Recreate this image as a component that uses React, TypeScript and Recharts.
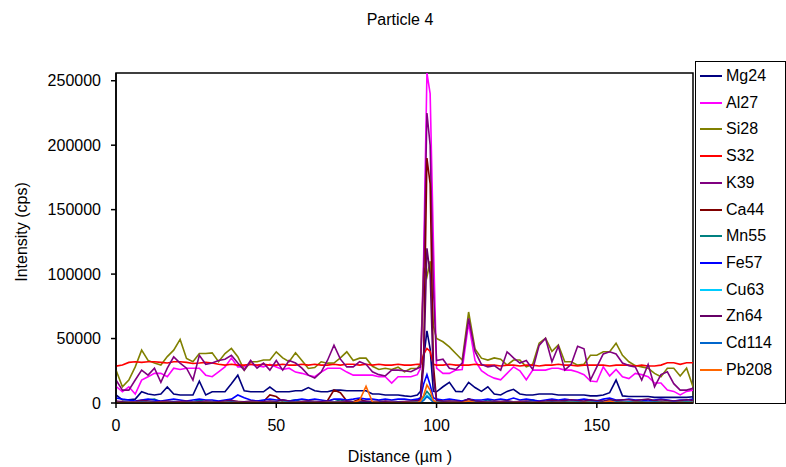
import React from 'react'
import { LineChart, Line, XAxis, YAxis, ReferenceArea } from 'recharts'

// distance along the line scan (µm); finer steps around the particle at ~97 µm
const distance = [
  0, 2, 4, 6, 8, 10, 12, 14, 16, 18,
  20, 22, 24, 26, 28, 30, 32, 34, 36, 38,
  40, 42, 44, 46, 48, 50, 52, 54, 56, 58,
  60, 62, 64, 66, 68, 70, 72, 74, 76, 78,
  80, 82, 84, 86, 88, 90, 92, 94,
  95, 96, 97, 98, 99,
  100, 102, 104, 106, 108, 110, 112, 114, 116, 118,
  120, 122, 124, 126, 128, 130, 132, 134, 136, 138,
  140, 142, 144, 146, 148, 150, 152, 154, 156, 158,
  160, 162, 164, 166, 168, 170, 172, 174, 176, 178, 180,
]

const mg24 = [
  6200, 2500, 2500, 3000, 8700, 7000, 6200, 7000, 12400, 7000,
  6200, 6200, 6200, 17000, 6200, 8700, 8700, 8700, 15000, 21600,
  9500, 8700, 8700, 8700, 12400, 8700, 8700, 8700, 9500, 9500,
  12000, 9500, 8700, 8700, 10000, 10000, 9500, 9500, 9500, 9500,
  7000, 7000, 6200, 6200, 6200, 5500, 5000, 6200,
  9000, 35000, 56000, 42000, 9000,
  8700, 12600, 16000, 9000, 8700, 16000, 12000, 9000, 12600, 7000,
  6200, 9000, 10600, 7000, 6200, 6200, 7000, 7000, 7000, 6200,
  6200, 6200, 6200, 6200, 5500, 5500, 6200, 8000, 17800, 5500,
  5000, 5000, 5000, 5000, 4400, 4400, 4400, 4400, 4400, 4400, 4900,
]

const al27 = [
  13000, 8700, 12600, 7000, 17800, 20400, 23000, 23000, 20400, 27000,
  26000, 27000, 27000, 27000, 21600, 20400, 24200, 28000, 34800, 28000,
  28000, 30000, 29000, 28000, 30000, 28000, 26000, 27000, 24000, 23000,
  21600, 20400, 24000, 27000, 27000, 27000, 24000, 21600, 21600, 21600,
  21600, 20400, 20400, 15500, 20400, 20400, 20400, 22000,
  27000, 116000, 256000, 240000, 126000,
  27000, 23000, 23000, 25500, 26000, 62000, 33000, 25000, 21600, 19300,
  18000, 23000, 28000, 25000, 18000, 25500, 25500, 25500, 27000, 27000,
  25500, 25500, 24000, 22000, 17000, 16500, 28000, 21000, 26000, 20400,
  19000, 23000, 22000, 20400, 15500, 15500, 10000, 9000, 6300, 9000, 10000,
]

const si28 = [
  25500, 12600, 17800, 28000, 41000, 33000, 31000, 29400, 36000, 41000,
  49300, 34600, 32000, 38400, 38400, 38900, 32000, 38400, 42300, 35900,
  25500, 32000, 32000, 33300, 33300, 39700, 35000, 32000, 39000, 33000,
  26800, 27500, 32000, 30900, 31000, 35000, 39700, 33000, 34800, 34800,
  28500, 26000, 27000, 26000, 27800, 24250, 26800, 27000,
  30000, 105000, 98000, 110000, 60000,
  50000, 47500, 43500, 38400, 33300, 70600, 42000, 34800, 33300, 35000,
  34000, 29400, 33300, 33300, 28100, 30000, 46400, 50200, 40000, 45000,
  32000, 32000, 29400, 30000, 37100, 37100, 39700, 39700, 46400, 37000,
  32000, 29000, 28000, 27000, 23000, 20400, 27000, 27000, 21000, 27000, 12600,
]

const s32 = [
  28600, 29500, 31500, 32000, 31500, 32000, 32000, 31500, 31000, 32000,
  32000, 31500, 30700, 31000, 31500, 31000, 30000, 29400, 30000, 29400,
  29400, 30000, 29400, 30000, 29400, 29400, 30000, 29400, 29400, 30000,
  29400, 30000, 29400, 29400, 30000, 29400, 30100, 30100, 29400, 30000,
  29400, 30000, 29400, 29400, 30000, 29400, 29400, 30000,
  30000, 38000, 42300, 40000, 30000,
  29400, 29400, 30000, 29400, 29400, 29400, 30000, 29400, 29400, 29400,
  28700, 29400, 29400, 28700, 29400, 29400, 28700, 29400, 29400, 30000,
  29400, 29400, 28700, 29400, 29400, 29400, 29400, 28700, 29400, 29400,
  29400, 28700, 29400, 28700, 28700, 29400, 31200, 31200, 30000, 31200, 31200,
]

const k39 = [
  17800, 10000, 10000, 17800, 25500, 21600, 27000, 16000, 27000, 35800,
  31000, 27000, 17800, 37000, 30000, 31000, 33000, 34000, 37000, 31000,
  25500, 33000, 27000, 31000, 25500, 33000, 25500, 33000, 31000, 27000,
  21600, 19300, 24000, 33200, 44800, 34000, 28000, 28000, 32000, 30000,
  24200, 22000, 21000, 25500, 25500, 25000, 24250, 26800,
  28000, 100000, 225000, 200000, 90000,
  33000, 34000, 27000, 26000, 31000, 65700, 40000, 30000, 28000, 29000,
  25500, 39700, 35000, 31000, 33000, 26000, 44700, 50200, 32000, 44000,
  25500, 30000, 44000, 42000, 17800, 28000, 38000, 39700, 38000, 31000,
  29000, 28000, 17800, 30000, 12600, 22000, 24200, 15000, 10000, 10000, 11400,
]

const ca44 = [
  800, 1200, 600, 1000, 1500, 800, 1200, 1000, 600, 1000,
  1200, 800, 1000, 1500, 800, 1000, 1200, 600, 1000, 1200,
  1000, 800, 1500, 1200, 6200, 5000, 1000, 800, 1200, 1000,
  1500, 1200, 1000, 2000, 10000, 8000, 1500, 1000, 3000, 1200,
  1000, 1500, 800, 1200, 1000, 800, 1200, 2000,
  3000, 40000, 190000, 170000, 30000,
  2000, 1200, 1500, 1000, 1200, 3000, 1500, 1000, 1200, 800,
  1000, 1500, 800, 1200, 1000, 1500, 1200, 800, 1000, 1200,
  1000, 800, 1200, 1000, 1500, 800, 1000, 1200, 1500, 1000,
  800, 1200, 1000, 800, 1200, 1000, 800, 1200, 1000, 800, 1000,
]

const mn55 = [
  500, 800, 400, 600, 1000, 2500, 3000, 600, 500, 800,
  600, 500, 800, 2500, 600, 400, 700, 500, 800, 600,
  500, 700, 400, 600, 800, 500, 600, 1500, 2500, 500,
  600, 400, 700, 500, 800, 2500, 600, 500, 400, 700,
  500, 600, 800, 500, 400, 600, 500, 700,
  1000, 5000, 9000, 6000, 1500,
  700, 500, 600, 400, 800, 3000, 600, 500, 2500, 400,
  600, 500, 700, 400, 600, 2500, 500, 700, 400, 600,
  500, 700, 600, 500, 800, 400, 500, 3000, 600, 500,
  700, 400, 600, 500, 800, 500, 400, 600, 500, 700, 600,
]

const fe57 = [
  3900, 3000, 2300, 1500, 2300, 3000, 2300, 1500, 2300, 3000,
  2300, 1500, 2300, 3000, 2300, 2300, 1500, 2300, 3000, 6200,
  4000, 2300, 1500, 2300, 3000, 2300, 2300, 1500, 2300, 3000,
  2300, 3000, 2300, 1500, 3000, 3000, 2300, 3000, 3900, 3000,
  3000, 2300, 3000, 2300, 3000, 3000, 2300, 3000,
  4000, 15000, 22000, 14000, 4000,
  3000, 2300, 3000, 2300, 1500, 3000, 2300, 2300, 3000, 2300,
  3000, 2300, 3900, 2300, 3000, 2300, 1500, 2300, 3000, 2300,
  3000, 2300, 2300, 3000, 2300, 1500, 3000, 3900, 2300, 2300,
  3000, 2300, 2300, 1500, 2300, 3000, 2300, 1500, 2300, 2300, 3000,
]

const cu63 = [
  400, 300, 600, 500, 300, 400, 700, 300, 500, 400,
  300, 600, 400, 300, 500, 400, 300, 600, 400, 500,
  300, 400, 600, 300, 500, 400, 300, 500, 600, 400,
  300, 500, 400, 600, 300, 400, 500, 300, 400, 600,
  400, 300, 500, 400, 300, 600, 400, 500,
  800, 3000, 6000, 4000, 800,
  500, 400, 300, 600, 400, 300, 500, 400, 600, 300,
  400, 500, 300, 400, 600, 300, 500, 400, 300, 500,
  400, 300, 600, 400, 500, 300, 400, 2000, 400, 300,
  500, 400, 300, 600, 400, 300, 500, 400, 300, 400, 500,
]

const zn64 = [
  1500, 1000, 800, 1200, 2000, 1500, 1000, 1200, 1500, 1000,
  1200, 1500, 1000, 800, 1500, 1200, 1000, 1500, 2000, 1200,
  1000, 1500, 1200, 1000, 1500, 1200, 2500, 1500, 1000, 1200,
  1500, 1000, 1200, 1500, 1000, 1200, 1500, 1000, 1200, 1500,
  1200, 1000, 1500, 1200, 1000, 1200, 1500, 1800,
  2500, 30000, 120000, 100000, 20000,
  2000, 1500, 1200, 1500, 1000, 3000, 1500, 1200, 1000, 1500,
  1200, 1500, 1000, 1200, 1500, 1000, 1200, 1500, 2000, 1500,
  2000, 2500, 2000, 1500, 2500, 2000, 1500, 2500, 2000, 2500,
  2500, 2000, 2500, 3000, 2000, 2500, 2000, 1500, 2000, 2500, 2000,
]

const cd114 = [
  300, 200, 400, 300, 200, 500, 300, 200, 400, 300,
  200, 300, 400, 200, 300, 500, 200, 300, 400, 300,
  200, 400, 300, 200, 300, 400, 200, 300, 500, 200,
  300, 400, 200, 300, 500, 300, 200, 400, 300, 200,
  300, 400, 200, 300, 400, 200, 300, 500,
  600, 2000, 5000, 3000, 600,
  300, 200, 400, 300, 200, 500, 300, 200, 400, 300,
  200, 300, 400, 200, 300, 500, 200, 300, 400, 300,
  200, 400, 300, 200, 300, 400, 200, 300, 500, 200,
  300, 400, 200, 300, 500, 300, 200, 400, 300, 200, 300,
]

const pb208 = [
  300, 200, 300, 400, 200, 300, 200, 300, 400, 200,
  300, 200, 300, 200, 400, 300, 200, 300, 200, 300,
  200, 300, 400, 200, 300, 200, 300, 200, 300, 400,
  200, 300, 200, 300, 400, 300, 200, 300, 2000, 13000,
  800, 300, 200, 300, 200, 300, 400, 300,
  1500, 6000, 14000, 10000, 2000,
  300, 200, 400, 300, 200, 1500, 300, 200, 300, 200,
  300, 200, 300, 400, 200, 300, 200, 300, 200, 300,
  200, 300, 200, 300, 400, 200, 300, 1500, 200, 300,
  200, 300, 200, 300, 200, 300, 400, 200, 300, 200, 300,
]

const seriesNames = ['Mg24', 'Al27', 'Si28', 'S32', 'K39', 'Ca44', 'Mn55', 'Fe57', 'Cu63', 'Zn64', 'Cd114', 'Pb208']
const seriesValues = [mg24, al27, si28, s32, k39, ca44, mn55, fe57, cu63, zn64, cd114, pb208]
const seriesColors = [
  '#000080', '#FF00FF', '#808000', '#FF0000', '#800080', '#800000',
  '#008080', '#0000FF', '#00CCFF', '#660066', '#0066CC', '#FF6600',
]

const xTicks = [0, 50, 100, 150]
const yTicks = [0, 50000, 100000, 150000, 200000, 250000]

const data = distance.map((d, i) => {
  const row: Record<string, number> = { distance: d }
  seriesNames.forEach((name, s) => {
    row[name] = seriesValues[s][i]
  })
  return row
})

const font = '"Liberation Sans", Arial, sans-serif'
const tickStyle = { fontSize: 16, fill: '#000', fontFamily: font }

function ChartLegend() {
  return (
    <div
      style={{
        position: 'absolute',
        left: 695,
        top: 61,
        width: 89,
        height: 341,
        border: '1px solid #000',
        background: '#fff',
      }}
    >
      {seriesNames.map((name, i) => (
        <div
          key={name}
          style={{
            position: 'absolute',
            left: 0,
            top: 14 + i * 26.7 - 10,
            height: 20,
            display: 'flex',
            alignItems: 'center',
          }}
        >
          <div style={{ width: 22, height: 2, marginLeft: 4, background: seriesColors[i] }} />
          <span style={{ marginLeft: 4, fontSize: 16, fontFamily: font, color: '#000' }}>{name}</span>
        </div>
      ))}
    </div>
  )
}

export default function App() {
  return (
    <div style={{ position: 'absolute', left: 0, top: 0, width: 786, height: 467, background: '#fff' }}>
      <div
        style={{
          position: 'absolute',
          left: 300,
          top: 10,
          width: 200,
          textAlign: 'center',
          fontFamily: font,
          fontSize: 16,
          lineHeight: '20px',
        }}
      >
        Particle 4
      </div>
      <LineChart width={786} height={467} data={data} margin={{ top: 73, right: 93, bottom: 24, left: 16 }}>
        <XAxis
          dataKey="distance"
          type="number"
          domain={[0, 180]}
          ticks={xTicks}
          tick={tickStyle}
          tickSize={5}
          tickMargin={12}
          height={40}
          axisLine={{ stroke: '#000', strokeWidth: 1.5 }}
          tickLine={{ stroke: '#000', strokeWidth: 1.5 }}
          allowDataOverflow
        />
        <YAxis
          type="number"
          domain={[0, 256000]}
          ticks={yTicks}
          interval={0}
          tick={tickStyle}
          tickSize={5}
          tickMargin={10}
          width={100}
          axisLine={{ stroke: '#000', strokeWidth: 1.5 }}
          tickLine={{ stroke: '#000', strokeWidth: 1.5 }}
          allowDataOverflow
        />
        <ReferenceArea x1={0} x2={180} y1={0} y2={256000} fill="none" stroke="#000" strokeWidth={1.5} />
        {seriesNames.map((name, i) => (
          <Line
            key={name}
            type="linear"
            dataKey={name}
            stroke={seriesColors[i]}
            strokeWidth={1.6}
            dot={false}
            isAnimationActive={false}
          />
        ))}
      </LineChart>
      <div
        style={{
          position: 'absolute',
          left: 300,
          top: 447,
          width: 200,
          textAlign: 'center',
          fontFamily: font,
          fontSize: 16,
          lineHeight: '20px',
        }}
      >
        Distance (µm )
      </div>
      <div
        style={{
          position: 'absolute',
          left: 22 - 80,
          top: 232 - 10,
          width: 160,
          textAlign: 'center',
          fontFamily: font,
          fontSize: 16,
          lineHeight: '20px',
          transform: 'rotate(-90deg)',
        }}
      >
        Intensity (cps)
      </div>
      <ChartLegend />
    </div>
  )
}
